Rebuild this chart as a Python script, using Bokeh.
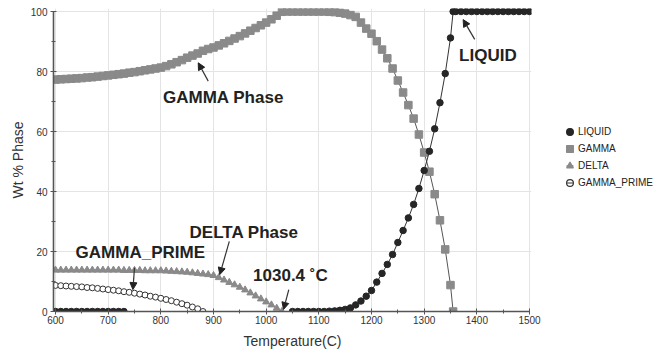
from bokeh.plotting import figure
from bokeh.models import (Range1d, Legend, LegendItem, Label, Arrow, NormalHead,
                          SingleIntervalTicker)
from bokeh.embed import file_html
from bokeh.resources import INLINE

# ---------------- data ----------------
liquid_t = list(range(600, 740, 10)) + list(range(1050, 1360, 10)) + [1355] + list(range(1360, 1510, 10))
liquid_v = ([0.0] * 14 +
            [0.0, 0.0, 0.0, 0.0, 0.0, 0.0, 0.0, 0.1, 0.2, 0.4, 0.7, 1.2, 2.2, 3.5, 5.1,
             7.0, 9.8, 12.7, 15.7, 19.0, 23.0, 27.0, 31.2, 35.7, 41.0,
             47.0, 53.4, 60.9, 69.6, 79.3, 91.2] +
            [100.0] +
            [100.0] * 15)

gamma_t = list(range(600, 1360, 10)) + [1355]
gamma_v = [77.3, 77.4, 77.5, 77.6, 77.7, 77.8, 78.0, 78.1, 78.3, 78.5,
           78.7, 78.9, 79.1, 79.3, 79.6, 79.8, 80.1, 80.4, 80.7, 81.0,
           81.3, 81.8, 82.4, 83.1, 83.8, 84.6, 85.3, 86.0, 86.9, 87.5,
           88.0, 88.7, 89.4, 90.2, 91.0, 91.8, 92.7, 93.6, 94.5, 95.4,
           96.3, 97.4, 98.6, 99.9, 100.0, 100.0, 100.0, 100.0, 100.0, 100.0,
           100.0, 100.0, 99.9, 99.8, 99.6, 99.3, 98.8, 98.2, 96.3, 94.3,
           92.6, 90.1, 87.3, 84.4, 81.0, 77.0, 73.0, 68.8, 64.3, 59.0,
           53.0, 46.6, 39.1, 30.4, 20.7, 8.8,
           0.0]

delta_t = list(range(600, 1040, 10))
delta_v = [13.8] * 10 + \
          [13.8, 13.8, 13.8, 13.7, 13.7, 13.7, 13.7, 13.6, 13.6, 13.6,
           13.6, 13.5, 13.4, 13.3, 13.2, 13.1, 12.9, 12.7, 12.5, 12.3,
           12.0, 11.3, 10.5, 9.7, 8.9, 8.1, 7.2, 6.2, 5.2, 4.2,
           3.2, 2.2, 1.1, 0.0]

gprime_t = list(range(600, 890, 10))
gprime_v = [8.7, 8.6, 8.5, 8.4, 8.3, 8.2, 8.0, 7.9, 7.7, 7.5,
            7.3, 7.1, 6.9, 6.6, 6.4, 6.1, 5.8, 5.5, 5.1, 4.8,
            4.4, 4.0, 3.6, 3.1, 2.6, 2.1, 1.5, 0.9, 0.0]

series_names = ["LIQUID", "GAMMA", "DELTA", "GAMMA_PRIME"]

# annotations: text, (x, y) of label centre, arrow tail, arrow tip
ann_text = ["GAMMA Phase", "LIQUID", "DELTA Phase", "GAMMA_PRIME", "1030.4 \u02daC"]
ann_xy = [(919, 71.2), (1421, 85.2), (958, 26.5), (761, 19.8), (1046, 12.0)]
arrow_from = [(890, 76.8), (1396, 90.7), (930, 23.4), (750, 14.6), (1043, 7.3)]
arrow_to = [(871, 82.9), (1374, 97.3), (912, 12.3), (747, 7.3), (1033, 0.7)]

x_ticks_start, x_ticks_end = 600, 1500
y_ticks_start, y_ticks_end = 0, 100

# ---------------- figure ----------------
FONT = "Liberation Sans"
DARK = "#262626"
GREY = "#8a8a8a"
NAN = float("nan")

p = figure(frame_width=478, frame_height=303, output_backend="svg", toolbar_location=None,
           x_range=Range1d(596.2, 1503.8), y_range=Range1d(0, 101),
           min_border_left=53, min_border_top=8, min_border_right=118, min_border_bottom=33,
           background_fill_color="white", border_fill_color="white")
p.outline_line_color = None

p.xaxis.ticker = SingleIntervalTicker(interval=100, num_minor_ticks=2)
p.yaxis.ticker = SingleIntervalTicker(interval=20, num_minor_ticks=2)
p.xaxis.bounds = (x_ticks_start, x_ticks_end)
p.yaxis.bounds = (y_ticks_start, y_ticks_end)
p.xaxis.axis_label = "Temperature(C)"
p.yaxis.axis_label = "Wt % Phase"
for ax in (p.xaxis, p.yaxis):
    ax.axis_line_color = "#555555"
    ax.axis_line_width = 1.6
    ax.major_tick_line_color = "#555555"
    ax.minor_tick_line_color = "#555555"
    ax.major_tick_in = 3
    ax.major_tick_out = 3
    ax.minor_tick_in = 2
    ax.minor_tick_out = 2
    ax.major_label_text_font = FONT
    ax.major_label_text_font_size = "10px"
    ax.major_label_text_color = "#333333"
    ax.axis_label_text_font = FONT
    ax.axis_label_text_font_size = "14px"
    ax.axis_label_text_font_style = "normal"
    ax.axis_label_text_color = "#333333"
p.xaxis.major_label_standoff = 1
p.xaxis.axis_label_standoff = 6
p.yaxis.major_label_standoff = 3
p.yaxis.axis_label_standoff = 2

p.grid.grid_line_color = "#e4e4e4"
p.grid.grid_line_width = 1
p.xgrid.bounds = (x_ticks_start, x_ticks_end)
p.ygrid.bounds = (y_ticks_start, y_ticks_end)

# series
p.line(gamma_t, gamma_v, line_color="#555555", line_width=1)
p.scatter(gamma_t, gamma_v, marker="square", size=7.5, fill_color=GREY, line_color=GREY)

p.line(delta_t, delta_v, line_color="#555555", line_width=1)
p.scatter(delta_t, delta_v, marker="triangle", size=7, fill_color=GREY, line_color=GREY)

p.line(gprime_t, gprime_v, line_color="#333333", line_width=1)
p.scatter(gprime_t, gprime_v, marker="circle", size=6, fill_color="white",
          line_color="#333333", line_width=1)

p.line(liquid_t[14:], liquid_v[14:], line_color="#333333", line_width=1)
p.scatter(liquid_t, liquid_v, marker="circle", size=6.5, fill_color=DARK, line_color=DARK)

# legend-only proxy renderers (NaN data: nothing drawn in the plot)
leg_specs = [("circle", DARK, DARK, False), ("square", GREY, GREY, False),
             ("triangle", GREY, GREY, True), ("circle", None, "#333333", True)]
items = []
for name, (mk, fc, lc, with_dash) in zip(series_names, leg_specs):
    rends = []
    if with_dash:
        rends.append(p.scatter([NAN], [NAN], marker="dash", size=11,
                               line_color="#333333", line_width=1))
    rends.append(p.scatter([NAN], [NAN], marker=mk, size=10, fill_color=fc,
                           line_color=lc, line_width=1.2))
    items.append(LegendItem(label=name, renderers=rends))

legend = Legend(items=items, location=(30, 120), border_line_color=None,
                background_fill_alpha=0, padding=0, margin=0, spacing=0,
                glyph_width=17, glyph_height=17, label_height=12, label_standoff=0,
                label_text_font=FONT, label_text_font_size="10px", label_text_color="#222222")
p.add_layout(legend, "right")

# annotations
for txt, (lx, ly), (ax0, ay0), (ax1, ay1) in zip(ann_text, ann_xy, arrow_from, arrow_to):
    p.add_layout(Label(x=lx, y=ly, text=txt, text_font=FONT, text_font_style="bold",
                       text_font_size="17px", text_align="center", text_baseline="middle",
                       text_color="#222222"))
    p.add_layout(Arrow(end=NormalHead(size=7, fill_color="#222222", line_color="#222222"),
                       x_start=ax0, y_start=ay0, x_end=ax1, y_end=ay1,
                       line_color="#333333", line_width=1.2))

open("out.html", "w").write(file_html(p, INLINE))
